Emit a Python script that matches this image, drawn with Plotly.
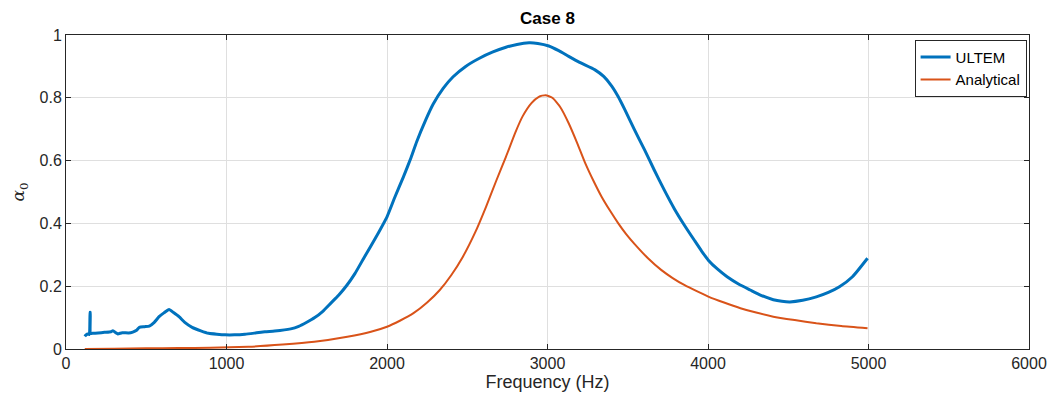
import plotly.graph_objects as go

ultem_f = [117, 125, 135, 145, 150, 151, 153, 169, 200, 240, 280, 292, 310, 323, 350, 390, 416, 440, 457,
           490, 519, 550, 580, 610, 642, 670, 704, 740, 786, 840, 889, 940, 992, 1050, 1115, 1180, 1239,
           1300, 1400, 1450, 1500, 1550, 1600, 1650, 1700, 1750, 1800, 1856, 1930, 2000, 2050, 2103, 2150,
           2185, 2240, 2288, 2350, 2412, 2490, 2576, 2660, 2741, 2810, 2885, 2940, 3008, 3070, 3132, 3200,
           3296, 3350, 3399, 3440, 3481, 3540, 3605, 3665, 3728, 3790, 3852, 3914, 3960, 4002, 4060, 4119,
           4190, 4263, 4330, 4407, 4460, 4510, 4590, 4675, 4750, 4819, 4900, 4994]
ultem_a = [0.040, 0.045, 0.048, 0.046, 0.117, 0.117, 0.050, 0.050, 0.051, 0.053, 0.055, 0.058, 0.052, 0.048,
           0.052, 0.051, 0.054, 0.060, 0.069, 0.071, 0.073, 0.085, 0.103, 0.115, 0.126, 0.116, 0.103, 0.085,
           0.069, 0.058, 0.050, 0.047, 0.045, 0.045, 0.047, 0.051, 0.055, 0.057, 0.064, 0.072, 0.085, 0.100,
           0.120, 0.146, 0.172, 0.203, 0.240, 0.290, 0.355, 0.421, 0.485, 0.549, 0.610, 0.660, 0.728, 0.780,
           0.830, 0.867, 0.900, 0.926, 0.946, 0.961, 0.970, 0.975, 0.973, 0.965, 0.950, 0.932, 0.913, 0.889,
           0.868, 0.838, 0.804, 0.763, 0.700, 0.634, 0.570, 0.506, 0.447, 0.395, 0.347, 0.312, 0.283, 0.254,
           0.230, 0.207, 0.188, 0.171, 0.157, 0.152, 0.150, 0.155, 0.166, 0.180, 0.198, 0.230, 0.289]

# Analytical model
anal_f = [117, 300, 500, 700, 900, 1136, 1350, 1547, 1753, 1900, 2000, 2080, 2165, 2250, 2329, 2400,
          2473, 2550, 2617, 2680, 2741, 2800, 2844, 2900, 2946, 2988, 3030, 3080, 3132, 3185, 3235, 3287,
          3337, 3390, 3440, 3490, 3543, 3626, 3708, 3780, 3852, 3930, 4002, 4100, 4202, 4300, 4407, 4540,
          4675, 4830, 4994]
anal_a = [0.000, 0.001, 0.002, 0.003, 0.004, 0.007, 0.014, 0.023, 0.039, 0.055, 0.071, 0.090, 0.114, 0.148,
          0.188, 0.235, 0.294, 0.372, 0.453, 0.535, 0.612, 0.690, 0.740, 0.783, 0.803, 0.808, 0.800, 0.770,
          0.719, 0.656, 0.592, 0.535, 0.485, 0.440, 0.401, 0.366, 0.334, 0.289, 0.252, 0.226, 0.204, 0.184,
          0.167, 0.148, 0.130, 0.116, 0.103, 0.092, 0.082, 0.073, 0.066]

x_ticks = [0, 1000, 2000, 3000, 4000, 5000, 6000]
y_ticks = [0, 0.2, 0.4, 0.6, 0.8, 1]
y_tick_text = ["0", "0.2", "0.4", "0.6", "0.8", "1"]

SANS = "Liberation Sans, Arial, sans-serif"

fig = go.Figure()
fig.add_trace(go.Scatter(x=ultem_f, y=ultem_a, mode="lines", name="ULTEM",
                         line=dict(color="#0072BD", width=3, shape="spline", smoothing=0.5)))
fig.add_trace(go.Scatter(x=anal_f, y=anal_a, mode="lines", name="Analytical",
                         line=dict(color="#D95319", width=2, shape="spline", smoothing=0.5)))

axis_common = dict(showline=True, linecolor="#262626", linewidth=1, mirror="ticks",
                   ticks="inside", ticklen=5, tickcolor="#262626",
                   showgrid=True, gridcolor="#DFDFDF", gridwidth=1, zeroline=False,
                   tickfont=dict(family=SANS, size=16, color="#262626"))

fig.update_layout(
    width=1059, height=402,
    margin=dict(l=66, r=25, t=35, b=53),
    paper_bgcolor="white", plot_bgcolor="white",
    title=dict(text="<b>Case 8</b>", x=0.5, xref="paper", xanchor="center", y=0.955, yanchor="middle",
               font=dict(family=SANS, size=17, color="black")),
    xaxis=dict(range=[0, 6000], tickvals=x_ticks,
               title=dict(text="Frequency (Hz)", standoff=4,
                          font=dict(family=SANS, size=18, color="#262626")),
               **axis_common),
    yaxis=dict(range=[0, 1], tickvals=y_ticks, ticktext=y_tick_text,
               title=dict(text="<i>α</i><sub>0</sub>", standoff=10,
                          font=dict(family="DejaVu Serif, Liberation Serif, serif", size=17, color="#262626")),
               **axis_common),
    legend=dict(x=0.9975, y=0.985, xanchor="right", yanchor="top",
                bgcolor="white", bordercolor="#262626", borderwidth=1,
                font=dict(family=SANS, size=15, color="black"),
                tracegroupgap=0, itemwidth=30),
    showlegend=True,
)

fig.write_html("out.html")
